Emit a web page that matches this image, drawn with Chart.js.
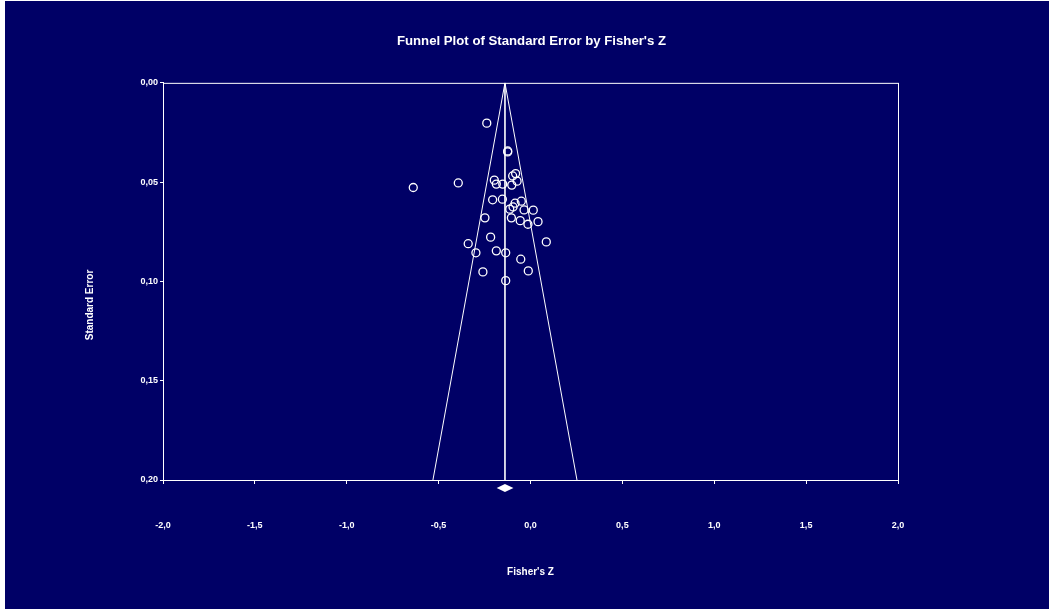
<!DOCTYPE html>
<html>
<head>
<meta charset="utf-8">
<script src="https://cdn.jsdelivr.net/npm/chart.js@4/dist/chart.umd.min.js"></script>
<style>
  html, body { margin: 0; padding: 0; background: #ffffff; }
  #wrap { position: absolute; left: 5px; top: 1px; width: 1044px; height: 608px; background: #000066; }
</style>
</head>
<body>
<div id="wrap"><canvas id="funnel" width="1044" height="608"></canvas></div>
<script>
// Fisher's Z per study
const fisherZ = [-0.238, -0.124, -0.638, -0.393, -0.197, -0.186, -0.151, -0.102, -0.097, -0.081,
                 -0.073, -0.206, -0.153, -0.084, -0.050, -0.113, -0.095, -0.035, 0.015, -0.248,
                 -0.104, -0.056, -0.014, 0.041, -0.217, -0.339, 0.086, -0.297, -0.186, -0.135,
                 -0.053, -0.259, -0.012, -0.135, -0.124];
// standard error per study
const stdErr = [0.0203, 0.0343, 0.0527, 0.0504, 0.0490, 0.0510, 0.0510, 0.0515, 0.0469, 0.0457,
                0.0495, 0.0589, 0.0586, 0.0606, 0.0596, 0.0636, 0.0625, 0.0640, 0.0641, 0.0680,
                0.0680, 0.0694, 0.0712, 0.0699, 0.0777, 0.0810, 0.0801, 0.0856, 0.0846, 0.0856,
                0.0888, 0.0952, 0.0947, 0.0996, 0.0348];
// pooled estimate and its 95% CI (diamond)
const pooled = -0.139;
const pooledLow = -0.184;
const pooledHigh = -0.093;
const seMax = 0.20;
const xTicks = [-2.0, -1.5, -1.0, -0.5, 0.0, 0.5, 1.0, 1.5, 2.0];
const yTicks = [0.00, 0.05, 0.10, 0.15, 0.20];

const white = '#ffffff';
const fontFamily = '"Liberation Sans", Arial, sans-serif';

const studies = fisherZ.map((z, i) => ({ x: z, y: stdErr[i] }));
const funnel = [
    { x: pooled - 1.96 * seMax, y: seMax },
    { x: pooled, y: 0 },
    { x: pooled + 1.96 * seMax, y: seMax }
];
const centre = [{ x: pooled, y: 0 }, { x: pooled, y: seMax }];

const decorations = {
    id: 'decorations',
    afterDatasetsDraw(chart) {
        // summary diamond just under the x axis, placed with the chart's scales
        const { ctx } = chart;
        const xs = chart.scales.x, ys = chart.scales.y;
        const xl = xs.getPixelForValue(pooledLow);
        const xm = xs.getPixelForValue(pooled);
        const xr = xs.getPixelForValue(pooledHigh);
        const ym = ys.getPixelForValue(seMax) + 8;
        ctx.save();
        ctx.fillStyle = white;
        ctx.beginPath();
        ctx.moveTo(xl, ym);
        ctx.lineTo(xm, ym - 4);
        ctx.lineTo(xr, ym);
        ctx.lineTo(xm, ym + 4);
        ctx.closePath();
        ctx.fill();
        ctx.restore();
    },
    afterDraw(chart) {
        const { ctx, chartArea } = chart;
        ctx.save();
        ctx.strokeStyle = white;
        ctx.lineWidth = 1;
        ctx.strokeRect(chartArea.left + 0.5, chartArea.top + 0.5,
            chartArea.right - chartArea.left, chartArea.bottom - chartArea.top);
        ctx.fillStyle = white;
        ctx.font = 'bold 10px ' + fontFamily;
        ctx.textAlign = 'center';
        ctx.textBaseline = 'middle';
        ctx.translate(85, 304);
        ctx.rotate(-Math.PI / 2);
        ctx.fillText('Standard Error', 0, 0);
        ctx.restore();
    }
};

const fmt = (v, d) => v.toFixed(d).replace('.', ',');

new Chart(document.getElementById('funnel').getContext('2d'), {
    type: 'scatter',
    data: {
        datasets: [
            {
                label: 'Funnel',
                data: funnel,
                showLine: true,
                borderColor: white,
                borderWidth: 1,
                pointRadius: 0,
                fill: false
            },
            {
                label: 'Pooled',
                data: centre,
                showLine: true,
                borderColor: 'rgba(255,255,255,0.85)',
                borderWidth: 1,
                pointRadius: 0,
                fill: false
            },
            {
                label: 'Studies',
                data: studies,
                pointStyle: 'circle',
                pointRadius: 4,
                pointBorderWidth: 1.3,
                pointBorderColor: white,
                pointBackgroundColor: 'rgba(0,0,0,0)'
            }
        ]
    },
    options: {
        responsive: false,
        animation: false,
        layout: { padding: { left: 9, right: 0, top: 0, bottom: 0 } },
        plugins: {
            legend: { display: false },
            tooltip: { enabled: false },
            title: {
                display: true,
                text: "Funnel Plot of Standard Error by Fisher's Z",
                color: white,
                font: { family: fontFamily, size: 13.2, weight: 'bold' },
                padding: { top: 32, bottom: 34 }
            }
        },
        scales: {
            x: {
                type: 'linear',
                min: -2,
                max: 2,
                afterBuildTicks: (scale) => { scale.ticks = xTicks.map(v => ({ value: v })); },
                afterFit: (scale) => { scale.height = 129; },
                ticks: {
                    color: white,
                    padding: 36,
                    font: { family: fontFamily, size: 9, weight: 'bold' },
                    callback: (v) => fmt(v, 1),
                    maxRotation: 0
                },
                grid: { display: true, drawOnChartArea: false, color: white, tickLength: 4 },
                border: { color: white },
                title: {
                    display: true,
                    text: "Fisher's Z",
                    color: white,
                    font: { family: fontFamily, size: 10, weight: 'bold' },
                    padding: { top: 4, bottom: 31 }
                }
            },
            y: {
                type: 'linear',
                reverse: true,
                min: 0,
                max: seMax,
                afterBuildTicks: (scale) => { scale.ticks = yTicks.map(v => ({ value: v })); },
                afterFit: (scale) => { scale.width = 149; },
                ticks: {
                    color: white,
                    padding: 2,
                    font: { family: fontFamily, size: 9, weight: 'bold' },
                    callback: (v) => fmt(v, 2)
                },
                grid: { display: true, drawOnChartArea: false, color: white, tickLength: 3 },
                border: { color: white }
            },
            // empty right-hand margin so the title stays centred on the page
            yRight: {
                type: 'linear',
                position: 'right',
                min: 0,
                max: 1,
                afterFit: (scale) => { scale.width = 151; },
                ticks: { display: false },
                grid: { display: false },
                border: { display: false }
            }
        }
    },
    plugins: [decorations]
});
</script>
</body>
</html>
